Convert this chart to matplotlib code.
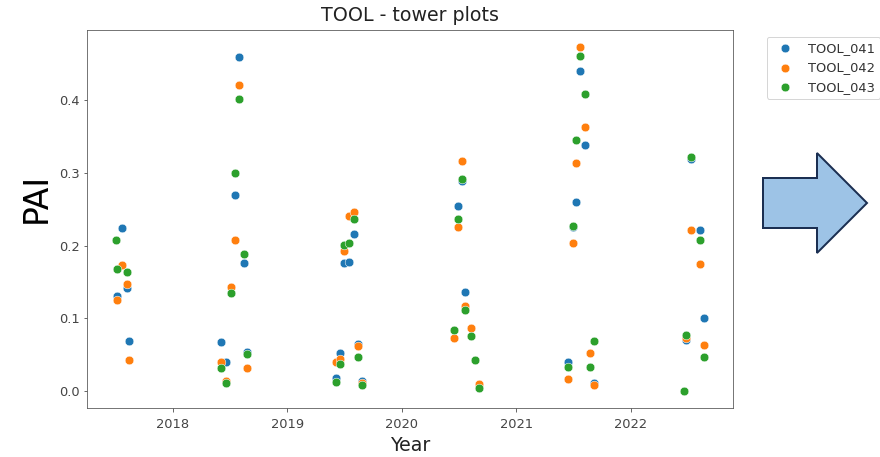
import pandas as pd
import matplotlib
matplotlib.use('Agg')
import matplotlib.pyplot as plt
from matplotlib.patches import Polygon
from matplotlib.transforms import Affine2D

# Valores (data da medição, PAI)
dates_041 = ['2017-07-05', '2017-07-23', '2017-08-06', '2017-08-14',
             '2018-06-02', '2018-06-19', '2018-07-17', '2018-07-30', '2018-08-14', '2018-08-26',
             '2019-06-06', '2019-06-19', '2019-06-30', '2019-07-16', '2019-08-02', '2019-08-15', '2019-08-28',
             '2020-06-29', '2020-07-12', '2020-07-20',
             '2021-06-14', '2021-07-01', '2021-07-11', '2021-07-22', '2021-08-07', '2021-09-07',
             '2022-06-27', '2022-07-13', '2022-08-09', '2022-08-22']
pai_041 = [0.131, 0.224, 0.142, 0.069,
           0.067, 0.039, 0.270, 0.459, 0.176, 0.054,
           0.018, 0.052, 0.176, 0.178, 0.216, 0.064, 0.014,
           0.254, 0.289, 0.136,
           0.040, 0.226, 0.260, 0.440, 0.338, 0.011,
           0.070, 0.319, 0.221, 0.100]

dates_042 = ['2017-07-05', '2017-07-23', '2017-08-06', '2017-08-14',
             '2018-06-02', '2018-06-19', '2018-07-04', '2018-07-17', '2018-07-30', '2018-08-26',
             '2019-06-06', '2019-06-19', '2019-06-30', '2019-07-16', '2019-08-02', '2019-08-15', '2019-08-28',
             '2020-06-15', '2020-06-29', '2020-07-12', '2020-07-20', '2020-08-08', '2020-09-03',
             '2021-06-14', '2021-07-01', '2021-07-11', '2021-07-22', '2021-08-07', '2021-08-23', '2021-09-07',
             '2022-06-27', '2022-07-13', '2022-08-09', '2022-08-22']
pai_042 = [0.125, 0.173, 0.147, 0.042,
           0.040, 0.014, 0.143, 0.207, 0.421, 0.032,
           0.040, 0.044, 0.192, 0.241, 0.246, 0.062, 0.011,
           0.073, 0.225, 0.317, 0.117, 0.086, 0.009,
           0.016, 0.203, 0.314, 0.473, 0.363, 0.052, 0.008,
           0.073, 0.222, 0.174, 0.063]

dates_043 = ['2017-07-04', '2017-07-06', '2017-08-06',
             '2018-06-02', '2018-06-19', '2018-07-04', '2018-07-17', '2018-07-30', '2018-08-14', '2018-08-26',
             '2019-06-06', '2019-06-19', '2019-06-30', '2019-07-16', '2019-08-02', '2019-08-15', '2019-08-28',
             '2020-06-15', '2020-06-29', '2020-07-12', '2020-07-20', '2020-08-08', '2020-08-21', '2020-09-03',
             '2021-06-14', '2021-07-01', '2021-07-11', '2021-07-22', '2021-08-07', '2021-08-23', '2021-09-07',
             '2022-06-21', '2022-06-27', '2022-07-13', '2022-08-09', '2022-08-22']
pai_043 = [0.207, 0.167, 0.164,
           0.032, 0.011, 0.134, 0.300, 0.401, 0.188, 0.050,
           0.012, 0.037, 0.201, 0.203, 0.237, 0.046, 0.008,
           0.084, 0.237, 0.292, 0.111, 0.075, 0.042, 0.004,
           0.033, 0.227, 0.345, 0.461, 0.409, 0.033, 0.069,
           0.000, 0.077, 0.322, 0.208, 0.046]

towers = ['TOOL_041', 'TOOL_042', 'TOOL_043']
series = [(dates_041, pai_041), (dates_042, pai_042), (dates_043, pai_043)]

fig = plt.figure(figsize=(880 / 72, 457 / 72), dpi=72)
ax = fig.add_axes([87 / 880, 1 - 408 / 457, 646 / 880, 378 / 457])

for name, (d, v) in zip(towers, series):
    ax.scatter(pd.to_datetime(d), v, s=75, edgecolor='white', linewidth=0.5, label=name)

ax.set_title('TOOL - tower plots', fontsize=19, color='#222222', pad=9)
ax.set_xlabel('Year', fontsize=19, color='#222222', labelpad=5)
ax.set_ylabel('PAI', fontsize=33)
ax.yaxis.set_label_coords(-0.053, 0.556)
ax.tick_params(labelsize=13, labelcolor='#444444', color='#444444')
ax.tick_params(axis='x', pad=6.5)
for s in ax.spines.values():
    s.set_color('#555555')
leg = ax.legend(bbox_to_anchor=(1.042, 1.0), loc='upper left', fontsize=13)
for t in leg.get_texts():
    t.set_color('#333333')

# Seta decorativa à direita (coordenadas em pixels da figura)
arrow = Polygon([(763, 178), (817, 178), (817, 153), (867, 203), (817, 253), (817, 228), (763, 228)],
                closed=True, facecolor='#9dc3e6', edgecolor='#1b2f52', linewidth=2)
arrow.set_transform(Affine2D().scale(1, -1).translate(0, 457))
fig.patches.append(arrow)

fig.savefig('out.png', dpi=72)
